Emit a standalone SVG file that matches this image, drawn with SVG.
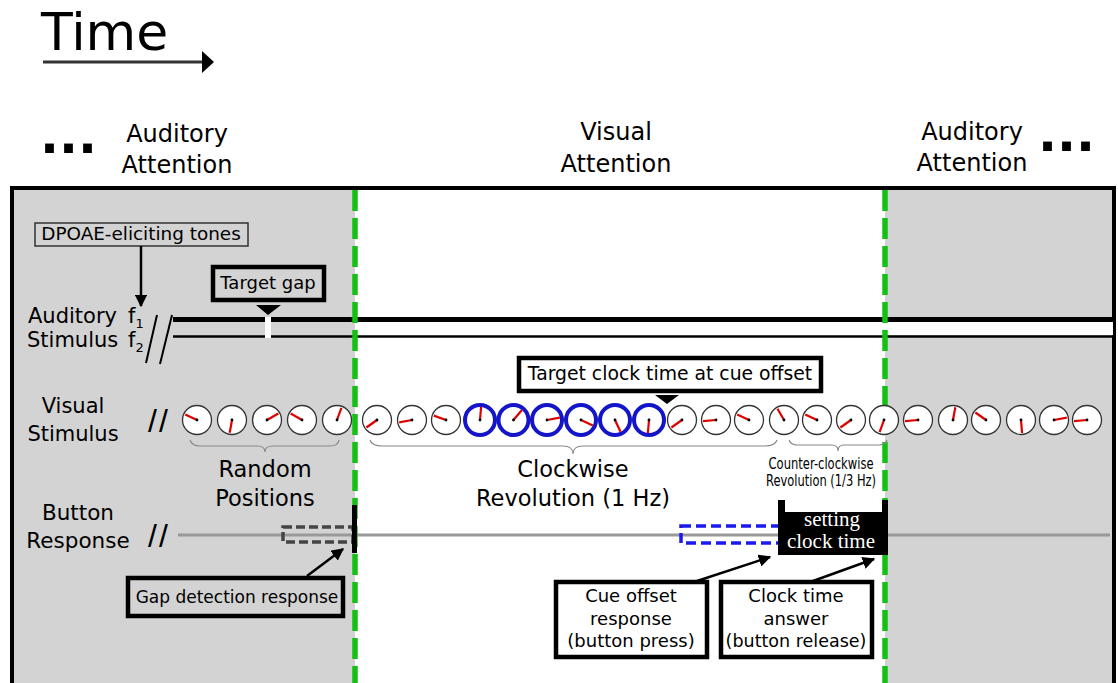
<svg xmlns="http://www.w3.org/2000/svg" xmlns:xlink="http://www.w3.org/1999/xlink" width="1118" height="683" viewBox="0 0 1118 683">
<style>
text{font-family:"DejaVu Sans","Liberation Sans",sans-serif;fill:#000}
.hdr{font-size:24px;text-anchor:middle}
.lbl{font-size:21px;text-anchor:middle}
.big{font-size:22.5px;text-anchor:middle}
.box{font-size:18px;text-anchor:middle}
.dots{font-size:50px;font-weight:bold}
.sl{font-family:"Liberation Sans",sans-serif;font-size:32px;letter-spacing:2px}
.face{fill:#fff;stroke:#333;stroke-width:1.3}
.blue{fill:#fff;stroke:#1414c8;stroke-width:4}
.hand{stroke:#e00000;stroke-width:2.2;stroke-linecap:butt}
.brace{fill:none;stroke:#888;stroke-width:1.2}
.nb{fill:#fff;stroke:#000;stroke-width:4.5}
.gb{fill:#d3d3d3;stroke:#000;stroke-width:4.5}
.green{stroke:#14c014;stroke-width:5.5;stroke-dasharray:21 7}
.conn{stroke:#000;stroke-width:2.5;fill:none}
.serif{font-family:"Liberation Serif","DejaVu Serif",serif;font-size:21px;fill:#fff;text-anchor:middle}
</style>
<defs>
<marker id="ah" viewBox="0 0 10 10" refX="9" refY="5" markerWidth="5" markerHeight="5" orient="auto" markerUnits="strokeWidth">
<path d="M0,0 L10,5 L0,10 z" fill="#000"/>
</marker>
</defs>

<rect x="0" y="0" width="1118" height="683" fill="#fff"/>

<g id="time">
<text x="41" y="50" style="font-size:52px">Time</text>
<line x1="43" y1="62" x2="204" y2="62" stroke="#333" stroke-width="3"/>
<polygon points="202,51 214,62 202,73" fill="#000"/>
</g>

<g id="headers">
<text class="dots" x="40" y="153">...</text>
<text class="hdr" x="177" y="142">Auditory</text>
<text class="hdr" x="177" y="173">Attention</text>
<text class="hdr" x="616" y="140">Visual</text>
<text class="hdr" x="616" y="172">Attention</text>
<text class="hdr" x="972" y="140">Auditory</text>
<text class="hdr" x="972" y="171">Attention</text>
<text class="dots" x="1038" y="151">...</text>
</g>

<g id="frame">
<rect x="14" y="190" width="341" height="500" fill="#d3d3d3"/>
<rect x="885" y="190" width="228" height="500" fill="#d3d3d3"/>
<rect x="12" y="188" width="1102" height="520" fill="none" stroke="#000" stroke-width="4"/>
</g>

<g id="auditory">
<rect x="355" y="321" width="758" height="14" fill="#fff"/>
<line x1="173" y1="319.5" x2="1114" y2="319.5" stroke="#000" stroke-width="5"/>
<line x1="173" y1="336.5" x2="1114" y2="336.5" stroke="#000" stroke-width="2.5"/>
<rect x="265" y="317" width="6" height="21" fill="#fff"/>
<line x1="146" y1="363" x2="157" y2="315" stroke="#000" stroke-width="2"/>
<line x1="160" y1="364" x2="172" y2="315" stroke="#000" stroke-width="2"/>
<text x="28" y="323" style="font-size:21px">Auditory <tspan x="128">f</tspan><tspan style="font-size:13px" dy="5">1</tspan></text>
<text x="27" y="347" style="font-size:21px">Stimulus <tspan x="128">f</tspan><tspan style="font-size:13px" dy="5">2</tspan></text>
</g>

<g id="button-line">
<line x1="178" y1="535" x2="1110" y2="535" stroke="#999" stroke-width="3"/>
<text class="lbl" x="78" y="520" style="font-size:21.5px">Button</text>
<text class="lbl" x="78" y="548" style="font-size:21.5px">Response</text>
<text class="sl" x="148" y="547">//</text>
</g>

<g id="boundaries">
<line class="green" x1="355" y1="190" x2="355" y2="683"/>
<line class="green" x1="885" y1="190" x2="885" y2="683"/>
</g>

<g id="visual-label">
<text class="lbl" x="73" y="413">Visual</text>
<text class="lbl" x="73" y="441">Stimulus</text>
<text class="sl" x="148" y="432">//</text>
</g>

<g id="clocks">
<circle class="face" cx="197" cy="420" r="14.5"/><line class="hand" x1="197" y1="420" x2="185.2" y2="414.5"/>
<circle class="face" cx="232" cy="420" r="14.5"/><line class="hand" x1="232" y1="420" x2="229.7" y2="432.8"/>
<circle class="face" cx="267" cy="420" r="14.5"/><line class="hand" x1="267" y1="420" x2="278.3" y2="413.5"/>
<circle class="face" cx="302" cy="420" r="14.5"/><line class="hand" x1="302" y1="420" x2="290.7" y2="413.5"/>
<circle class="face" cx="337" cy="420" r="14.5"/><line class="hand" x1="337" y1="420" x2="341.4" y2="407.8"/>
<circle class="face" cx="377" cy="420" r="14.5"/><line class="hand" x1="377" y1="420" x2="366.4" y2="427.5"/>
<circle class="face" cx="412" cy="420" r="14.5"/><line class="hand" x1="412" y1="420" x2="399.2" y2="422.3"/>
<circle class="face" cx="446" cy="420" r="14.5"/><line class="hand" x1="446" y1="420" x2="433.8" y2="415.6"/>
<circle class="blue" cx="480" cy="420" r="15"/><line class="hand" x1="480" y1="420" x2="481.1" y2="407"/>
<circle class="blue" cx="513.5" cy="420" r="15"/><line class="hand" x1="513.5" y1="420" x2="521.9" y2="410"/>
<circle class="blue" cx="547" cy="420" r="15"/><line class="hand" x1="547" y1="420" x2="559.8" y2="417.7"/>
<circle class="blue" cx="581" cy="420" r="15"/><line class="hand" x1="581" y1="420" x2="592.8" y2="425.5"/>
<circle class="blue" cx="615" cy="420" r="15"/><line class="hand" x1="615" y1="420" x2="620.5" y2="431.8"/>
<circle class="blue" cx="649" cy="420" r="15"/><line class="hand" x1="649" y1="420" x2="647.9" y2="433"/>
<circle class="face" cx="682" cy="420" r="14.5"/><line class="hand" x1="682" y1="420" x2="671.4" y2="427.5"/>
<circle class="face" cx="716" cy="420" r="14.5"/><line class="hand" x1="716" y1="420" x2="703" y2="421.1"/>
<circle class="face" cx="749" cy="420" r="14.5"/><line class="hand" x1="749" y1="420" x2="737.2" y2="414.5"/>
<circle class="face" cx="784" cy="420" r="14.5"/><line class="hand" x1="784" y1="420" x2="777.5" y2="408.7"/>
<circle class="face" cx="817" cy="420" r="14.5"/><line class="hand" x1="817" y1="420" x2="805.2" y2="414.5"/>
<circle class="face" cx="851" cy="420" r="14.5"/><line class="hand" x1="851" y1="420" x2="840.4" y2="427.5"/>
<circle class="face" cx="884" cy="420" r="14.5"/><line class="hand" x1="884" y1="420" x2="879.6" y2="432.2"/>
<circle class="face" cx="918" cy="420" r="14.5"/><line class="hand" x1="918" y1="420" x2="905" y2="421.1"/>
<circle class="face" cx="953" cy="420" r="14.5"/><line class="hand" x1="953" y1="420" x2="955.3" y2="407.2"/>
<circle class="face" cx="986" cy="420" r="14.5"/><line class="hand" x1="986" y1="420" x2="975.4" y2="412.5"/>
<circle class="face" cx="1021" cy="420" r="14.5"/><line class="hand" x1="1021" y1="420" x2="1022.1" y2="433"/>
<circle class="face" cx="1054" cy="420" r="14.5"/><line class="hand" x1="1054" y1="420" x2="1066.8" y2="417.7"/>
<circle class="face" cx="1087" cy="420" r="14.5"/><line class="hand" x1="1087" y1="420" x2="1074" y2="421.1"/>
<g fill="#000">
<circle cx="197" cy="420" r="1.4"/><circle cx="232" cy="420" r="1.4"/><circle cx="267" cy="420" r="1.4"/><circle cx="302" cy="420" r="1.4"/><circle cx="337" cy="420" r="1.4"/>
<circle cx="377" cy="420" r="1.4"/><circle cx="412" cy="420" r="1.4"/><circle cx="446" cy="420" r="1.4"/><circle cx="480" cy="420" r="1.4"/><circle cx="513.5" cy="420" r="1.4"/>
<circle cx="547" cy="420" r="1.4"/><circle cx="581" cy="420" r="1.4"/><circle cx="615" cy="420" r="1.4"/><circle cx="649" cy="420" r="1.4"/><circle cx="682" cy="420" r="1.4"/>
<circle cx="716" cy="420" r="1.4"/><circle cx="749" cy="420" r="1.4"/><circle cx="784" cy="420" r="1.4"/><circle cx="817" cy="420" r="1.4"/><circle cx="851" cy="420" r="1.4"/>
<circle cx="884" cy="420" r="1.4"/><circle cx="918" cy="420" r="1.4"/><circle cx="953" cy="420" r="1.4"/><circle cx="986" cy="420" r="1.4"/><circle cx="1021" cy="420" r="1.4"/>
<circle cx="1054" cy="420" r="1.4"/><circle cx="1087" cy="420" r="1.4"/>
</g>
</g>

<g id="random-positions">
<path class="brace" d="M190,440 q2,6 10,6 H257 q8,0 8,6 q0,-6 8,-6 H330 q8,0 9,-6"/>
<text class="big" x="265" y="477">Random</text>
<text class="big" x="265" y="506">Positions</text>
</g>
<g id="clockwise">
<path class="brace" d="M370,440 q2,6 12,6 H563 q10,0 10,8 q0,-8 10,-8 H765 q10,0 12,-6"/>
<text class="big" x="573" y="477">Clockwise</text>
<text class="big" x="573" y="506">Revolution (1 Hz)</text>
</g>
<g id="counter-clockwise">
<path class="brace" d="M789,440 q2,5 8,5 H832 q6,0 6,6 q0,-6 6,-6 H879 q6,0 8,-5"/>
<text x="821" y="469" style="font-size:15px;text-anchor:middle" textLength="105" lengthAdjust="spacingAndGlyphs">Counter-clockwise</text>
<text x="821" y="486" style="font-size:15px;text-anchor:middle" textLength="110" lengthAdjust="spacingAndGlyphs">Revolution (1/3 Hz)</text>
</g>

<g id="dpoae">
<rect x="35" y="223" width="213" height="23" fill="#d3d3d3" stroke="#333" stroke-width="1.5"/>
<text class="box" x="141" y="240" style="font-size:18.4px">DPOAE-eliciting tones</text>
</g>
<g id="target-gap">
<rect class="gb" x="213" y="267" width="111" height="33"/>
<text class="box" x="268" y="289">Target gap</text>
<polygon points="256,305 281,305 268,315" fill="#000"/>
</g>
<g id="target-clock">
<rect class="nb" x="519" y="358" width="302" height="33"/>
<text class="box" x="670" y="380" style="font-size:18.8px">Target clock time at cue offset</text>
<polygon points="655,395 679,395 667,404" fill="#000"/>
</g>

<g id="gap-response">
<rect x="283" y="527" width="70" height="15" fill="none" stroke="#444" stroke-width="3.5" stroke-dasharray="9 4"/>
<rect x="352" y="505" width="5" height="48" fill="#000"/>
</g>
<g id="cue-response">
<rect x="681" y="526" width="104" height="17" fill="none" stroke="#1a1aee" stroke-width="3.5" stroke-dasharray="10 5"/>
</g>
<g id="setting-clock-time">
<rect x="778" y="500" width="110" height="55" fill="#000"/>
<rect x="785" y="498" width="97" height="14" fill="#fff"/>
<text class="serif" x="832" y="526">setting</text>
<text class="serif" x="831" y="548">clock time</text>
</g>

<g id="gap-detection-box">
<rect class="gb" x="128" y="578" width="215" height="38"/>
<text class="box" x="237" y="603" style="font-size:17px">Gap detection response</text>
</g>
<g id="cue-offset-box">
<rect class="nb" x="556" y="582" width="151" height="75"/>
<text class="box" x="631" y="602">Cue offset</text>
<text class="box" x="631" y="625">response</text>
<text class="box" x="631" y="647">(button press)</text>
</g>
<g id="clock-answer-box">
<rect class="nb" x="721" y="582" width="151" height="75"/>
<text class="box" x="796" y="602">Clock time</text>
<text class="box" x="796" y="625">answer</text>
<text class="box" x="796" y="647" style="font-size:17.5px">(button release)</text>
</g>

<g id="connectors">
<line class="conn" x1="141" y1="246" x2="141" y2="306" marker-end="url(#ah)"/>
<line class="conn" x1="307" y1="576" x2="343" y2="549" marker-end="url(#ah)"/>
<line class="conn" x1="697" y1="581" x2="770" y2="557" marker-end="url(#ah)"/>
<line class="conn" x1="813" y1="581" x2="874" y2="559" marker-end="url(#ah)"/>
</g>
</svg>
